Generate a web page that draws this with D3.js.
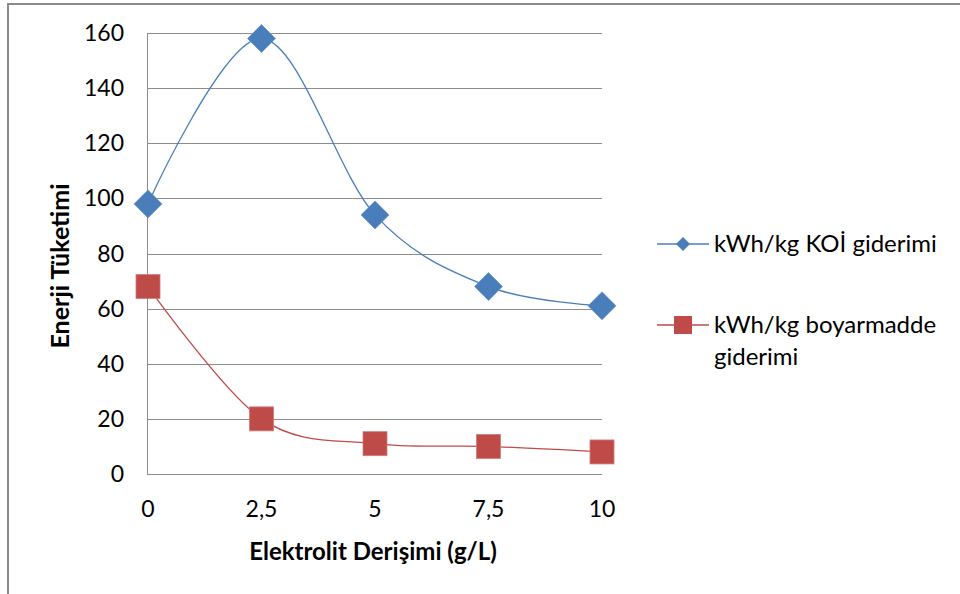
<!DOCTYPE html>
<html>
<head>
<meta charset="utf-8">
<script src="https://cdn.jsdelivr.net/npm/d3@7"></script>
<style>
  html, body { margin: 0; padding: 0; background: #fff; }
  svg { display: block; }
  text { font-family: Lato, "Open Sans", sans-serif; fill: #000; }
</style>
</head>
<body>
<script>
// values
const concentrations = [0, 2.5, 5, 7.5, 10];
const koiValues = [98, 158, 94, 68, 61];
const dyeValues = [68, 20, 11, 10, 8];
const xTickLabels = ["0", "2,5", "5", "7,5", "10"];
const yTicks = [0, 20, 40, 60, 80, 100, 120, 140, 160];
const seriesNames = ["kWh/kg KOİ giderimi", "kWh/kg boyarmadde giderimi"];

const width = 960, height = 594;
const blue = "#4A7EBB", red = "#BE4B48";
const tickSize = "23px", labelSize = "24px";

const svg = d3.select("body").append("svg")
    .attr("width", width)
    .attr("height", height);

// outer chart frame (runs off the right and bottom edges)
svg.append("rect")
    .attr("x", 8).attr("y", 4)
    .attr("width", 1200).attr("height", 1200)
    .attr("fill", "none")
    .attr("stroke", "#8a8a8a")
    .attr("stroke-width", 2);

const x = d3.scaleLinear().domain([0, 10]).range([148, 602]);
const y = d3.scaleLinear().domain([0, 160]).range([474, 33]);

// horizontal gridlines
svg.append("g")
    .selectAll("line")
    .data(yTicks)
    .join("line")
      .attr("x1", x(0)).attr("x2", x(10))
      .attr("y1", d => Math.round(y(d)) + 0.5)
      .attr("y2", d => Math.round(y(d)) + 0.5)
      .attr("stroke", "#8c8c8c")
      .attr("stroke-width", 1);

// y axis line
svg.append("line")
    .attr("x1", x(0) - 0.5).attr("x2", x(0) - 0.5)
    .attr("y1", y(160)).attr("y2", y(0) + 1)
    .attr("stroke", "#8c8c8c");

// y tick labels
svg.append("g")
    .attr("text-anchor", "end")
    .style("font-size", tickSize)
  .selectAll("text")
  .data(yTicks)
  .join("text")
    .attr("x", 124)
    .attr("y", d => y(d))
    .attr("dy", "0.35em")
    .text(d => d);

// x tick labels
svg.append("g")
    .attr("text-anchor", "middle")
    .style("font-size", tickSize)
  .selectAll("text")
  .data(concentrations)
  .join("text")
    .attr("x", d => x(d))
    .attr("y", 509)
    .attr("dy", "0.35em")
    .text((d, i) => xTickLabels[i]);

// axis titles
svg.append("text")
    .attr("x", 373).attr("y", 552)
    .attr("dy", "0.35em")
    .attr("text-anchor", "middle")
    .style("font-size", labelSize)
    .style("font-weight", "bold")
    .text("Elektrolit Derişimi (g/L)");

svg.append("text")
    .attr("transform", "translate(60,266) rotate(-90)")
    .attr("dy", "0.35em")
    .attr("text-anchor", "middle")
    .style("font-size", "25px")
    .style("font-weight", "bold")
    .text("Enerji Tüketimi");

// smoothed lines, like the spreadsheet's "smoothed line" option
const line = d3.line()
    .x(d => x(d[0]))
    .y(d => y(d[1]))
    .curve(d3.curveCardinal.tension(0));

const koi = concentrations.map((c, i) => [c, koiValues[i]]);
const dye = concentrations.map((c, i) => [c, dyeValues[i]]);

svg.append("path")
    .attr("d", line(koi))
    .attr("fill", "none")
    .attr("stroke", blue)
    .attr("stroke-width", 1.3);

svg.append("path")
    .attr("d", line(dye))
    .attr("fill", "none")
    .attr("stroke", red)
    .attr("stroke-width", 1.3);

// markers
const diamond = r => `M0,${-r}L${r},0L0,${r}L${-r},0Z`;

svg.append("g")
  .selectAll("path")
  .data(koi)
  .join("path")
    .attr("transform", d => `translate(${x(d[0])},${y(d[1])})`)
    .attr("d", diamond(14))
    .attr("fill", blue)
    .attr("stroke", "#6d98cf")
    .attr("stroke-width", 0.8);

svg.append("g")
  .selectAll("rect")
  .data(dye)
  .join("rect")
    .attr("x", d => x(d[0]) - 12)
    .attr("y", d => y(d[1]) - 12)
    .attr("width", 24).attr("height", 24)
    .attr("fill", red)
    .attr("stroke", "#d27c7a")
    .attr("stroke-width", 0.8);

// legend
const legend = svg.append("g");

legend.append("line")
    .attr("x1", 657).attr("x2", 709)
    .attr("y1", 244).attr("y2", 244)
    .attr("stroke", blue).attr("stroke-width", 1.3);
legend.append("path")
    .attr("transform", "translate(683,244)")
    .attr("d", diamond(7))
    .attr("fill", blue);
legend.append("text")
    .attr("x", 714).attr("y", 244)
    .attr("dy", "0.35em")
    .style("font-size", labelSize)
    .text(seriesNames[0]);

legend.append("line")
    .attr("x1", 657).attr("x2", 709)
    .attr("y1", 325).attr("y2", 325)
    .attr("stroke", red).attr("stroke-width", 1.3);
legend.append("rect")
    .attr("x", 674).attr("y", 316)
    .attr("width", 18).attr("height", 18)
    .attr("fill", red);
const t2 = legend.append("text")
    .attr("x", 714).attr("y", 325)
    .attr("dy", "0.35em")
    .style("font-size", labelSize);
t2.append("tspan").text("kWh/kg boyarmadde");
t2.append("tspan").attr("x", 714).attr("dy", "1.3em").text("giderimi");
</script>
</body>
</html>
